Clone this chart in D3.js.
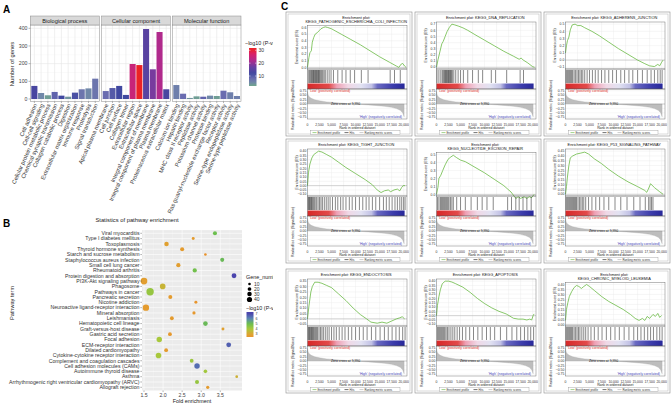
<!DOCTYPE html>
<html><head><meta charset="utf-8">
<script src="https://cdn.jsdelivr.net/npm/d3@7"></script>
<style>body{margin:0;background:#fff}svg{display:block}text{font-family:"Liberation Sans",Arial,sans-serif}</style>
</head><body><svg id="c" width="672" height="403"></svg>
<script>
// ================= Panel A data =================
const bpTerms=["Cell adhesion","Cell-cell signaling","Cellular protein metabolic process","Chemical synaptic transmission","Collagen catabolic process","Digestion","Extracellular matrix organization","Immune response","Proteolysis","Signal transduction"];
const bpGenes=[74,34,21,40,19,13,36,55,60,115];
const bpLogP=[13,5,3,9,12,4,11,7,5,7];
const ccTerms=["Apical plasma membrane","Cell junction","Cell surface","Collagen trimer","Extracellular region","Extracellular space","Integral component of membrane","Integral component of plasma membrane","Plasma membrane","Proteinaceous extracellular matrix"];
const ccGenes=[45,62,74,23,198,192,396,168,379,55];
const ccLogP=[8,10,12,12,25,31,15,18,22,13];
const mfTerms=["Calcium ion binding","Heparin binding","MHC class II receptor activity","Peptidase activity","Potassium channel activity","Protease binding","Ras guanyl-nucleotide exchange factor activity","Receptor activity","Serine-type endopeptidase activity","Serine-type peptidase activity"];
const mfGenes=[79,30,6,15,13,19,17,47,38,17];
const mfLogP=[6,8,4,3,9,5,3,8,6,6];
const facetNames=["Biological process","Cellular component","Molecular function"];
const countTicks=[0,100,200,300,400];
const goLegendTicks=[10,20,30];

// ================= Panel B data =================
const pathways=["Viral myocarditis","Type I diabetes mellitus","Toxoplasmosis","Thyroid hormone synthesis","Starch and sucrose metabolism","Staphylococcus aureus infection","Small cell lung cancer","Rheumatoid arthritis","Protein digestion and absorption","PI3K-Akt signaling pathway","Phagosome","Pathways in cancer","Pancreatic secretion","Nicotine addiction","Neuroactive ligand-receptor interaction","Mineral absorption","Leishmaniasis","Hematopoietic cell lineage","Graft-versus-host disease","Gastric acid secretion","Focal adhesion","ECM-receptor interaction","Dilated cardiomyopathy","Cytokine-cytokine receptor interaction","Complement and coagulation cascades","Cell adhesion molecules (CAMs)","Autoimmune thyroid disease","Asthma","Arrhythmogenic right ventricular cardiomyopathy (ARVC)","Allograft rejection"];
const foldEnrich=[3.36,2.79,2.09,2.50,3.11,3.55,2.40,2.83,3.86,1.50,1.99,1.66,2.19,2.86,1.55,2.81,2.23,3.11,3.57,2.18,1.90,3.72,2.08,1.88,2.75,2.89,3.11,3.93,2.89,3.17];
const geneNumber=[24,13,29,24,10,24,26,26,34,65,46,80,24,13,60,15,21,31,13,21,43,34,21,46,21,43,19,11,24,15];
const pathLogP=[5.0,2.6,2.8,2.6,2.3,5.1,2.7,4.9,7.0,2.7,3.4,4.3,2.6,2.4,2.6,2.5,2.6,5.1,2.8,2.5,4.0,6.6,2.6,4.0,4.2,6.4,4.1,3.3,4.3,2.6];
const foldTicks=[1.5,2.0,2.5,3.0,3.5];
const geneLegend=[10,20,30,40];
const pathLegendTicks=[3,4,5,6,7];

// ================= Panel C data =================
const gseaTitles=[["Enrichment plot:","KEGG_PATHOGENIC_ESCHERICHIA_COLI_INFECTION"],["Enrichment plot: KEGG_DNA_REPLICATION"],["Enrichment plot: KEGG_ADHERENS_JUNCTION"],["Enrichment plot: KEGG_TIGHT_JUNCTION"],["Enrichment plot:","KEGG_NUCLEOTIDE_EXCISION_REPAIR"],["Enrichment plot: KEGG_P53_SIGNALING_PATHWAY"],["Enrichment plot: KEGG_ENDOCYTOSIS"],["Enrichment plot: KEGG_APOPTOSIS"],["Enrichment plot:","KEGG_CHRONIC_MYELOID_LEUKEMIA"]];
const es1=[[0,0],[300,0.15],[500,0.22],[800,0.25],[1000,0.38],[1300,0.45],[1600,0.5],[2000,0.52],[2400,0.55],[2800,0.58],[3300,0.6],[3700,0.61],[4200,0.6],[5000,0.58],[7000,0.5],[9000,0.42],[11000,0.34],[13000,0.25],[15000,0.16],[17000,0.08],[18500,0.02],[19000,0],[19500,0.05],[19800,0.06],[20200,0.02],[20500,0]];
const es2=[[0,0],[300,0.12],[700,0.25],[1100,0.38],[1400,0.42],[1800,0.5],[2200,0.58],[2700,0.65],[3200,0.7],[3700,0.69],[4500,0.67],[5500,0.64],[6500,0.6],[8000,0.53],[10000,0.44],[12000,0.35],[14000,0.26],[16000,0.18],[17200,0.13],[17600,0.15],[18000,0.12],[19000,0.07],[20000,0.01],[20400,0]];
const es3=[[0,0.1],[200,0.2],[400,0.27],[700,0.32],[1000,0.42],[1400,0.49],[2000,0.5],[2500,0.48],[3200,0.48],[4000,0.45],[5500,0.4],[7000,0.34],[9000,0.25],[11000,0.16],[13000,0.08],[15000,0.0],[16500,-0.05],[17500,-0.08],[18500,-0.09],[19200,-0.06],[19600,-0.08],[20000,-0.03],[20300,0.0]];
const es4=[[0,0],[200,0.15],[500,0.25],[900,0.32],[1300,0.36],[1800,0.38],[2300,0.4],[3000,0.39],[4000,0.36],[5000,0.33],[6500,0.27],[8000,0.21],[10000,0.14],[12000,0.07],[13500,0.01],[14500,-0.05],[15300,-0.08],[16000,-0.06],[16800,-0.05],[17300,-0.07],[18000,-0.05],[18700,-0.04],[19200,-0.06],[19600,-0.02],[19900,0.0],[20300,0.0]];
const es5=[[0,0],[300,0.09],[500,0.2],[900,0.24],[1300,0.3],[1800,0.37],[2400,0.44],[3000,0.47],[3500,0.49],[4200,0.46],[5000,0.43],[6000,0.41],[8000,0.34],[10000,0.27],[12000,0.19],[14000,0.11],[15500,0.03],[16500,-0.05],[17000,-0.03],[17500,-0.05],[18200,-0.03],[18800,-0.05],[19300,-0.03],[19800,-0.04],[20300,0.0]];
const es6=[[0,0],[200,0.08],[400,0.18],[700,0.3],[1000,0.38],[1500,0.4],[2300,0.42],[3200,0.43],[4000,0.44],[4800,0.42],[6000,0.37],[7500,0.32],[9000,0.26],[11000,0.19],[13000,0.13],[15000,0.08],[16500,0.04],[16900,0.02],[17200,0.05],[17700,0.11],[18500,0.07],[19500,0.03],[20300,0.0]];
const es7=[[0,0],[300,0.12],[700,0.25],[1000,0.3],[1500,0.34],[2200,0.34],[3000,0.33],[4000,0.31],[5000,0.29],[6500,0.23],[8000,0.17],[9500,0.1],[11000,0.04],[12300,0.0],[13200,-0.03],[14500,-0.04],[15500,-0.03],[16500,-0.04],[17500,-0.02],[18500,0.0],[19200,0.01],[19700,0.02],[20200,0.0]];
const es8=[[0,0],[200,0.12],[500,0.22],[800,0.3],[1200,0.37],[1800,0.4],[2500,0.4],[3200,0.39],[4000,0.37],[5500,0.33],[7000,0.27],[8500,0.2],[10000,0.14],[11500,0.09],[13000,0.05],[14500,0.02],[16000,-0.03],[17000,-0.04],[18000,-0.04],[18800,-0.05],[19400,-0.04],[19800,-0.05],[20100,0.0],[20300,0.02]];
const es9=[[0,0.04],[200,0.15],[500,0.22],[800,0.28],[1300,0.33],[1800,0.37],[2300,0.39],[2800,0.38],[3300,0.36],[3800,0.38],[4400,0.4],[5000,0.38],[6000,0.34],[7500,0.28],[9000,0.23],[10500,0.19],[12000,0.15],[13500,0.1],[14500,0.06],[15300,0.04],[16000,0.06],[16500,0.04],[17000,0.08],[17500,0.06],[18200,0.1],[18700,0.08],[19200,0.11],[19600,0.07],[20000,0.09]];
const esTicks1=[0,0.1,0.2,0.3,0.4,0.5,0.6];
const esTicks2=[0,0.1,0.2,0.3,0.4,0.5,0.6,0.7];
const esTicks3=[-0.1,0,0.1,0.2,0.3,0.4,0.5];
const esTicks4=[-0.1,-0.05,0,0.05,0.1,0.15,0.2,0.25,0.3,0.35,0.4];
const esTicks5=[0,0.1,0.2,0.3,0.4,0.5];
const esTicks6=[0,0.05,0.1,0.15,0.2,0.25,0.3,0.35,0.4,0.45];
const esTicks7=[-0.05,0,0.05,0.1,0.15,0.2,0.25,0.3,0.35];
const esTicks8=[-0.1,-0.05,0,0.05,0.1,0.15,0.2,0.25,0.3,0.35,0.4];
const esTicks9=[0,0.05,0.1,0.15,0.2,0.25,0.3,0.35,0.4];
const hits1=[150,400,600,800,950,1100,1250,1400,1550,1700,1850,2000,2150,2300,2450,2600,2800,3000,3200,3450,3700,4100,4500,4900,5400,6300,7200,8000,8900,9800,11200,12600,17200,18100,19300];
const hits2=[100,500,900,1200,1400,1600,1750,1900,2050,2200,2350,2500,2650,2800,2950,3100,3300,3600,4000,4500,5000,5600,6500,7500,8700,9600,11400,12300,14600,17400,18100];
const hits3=[100,300,500,700,900,1100,1300,1500,1800,2100,2400,2700,3000,3300,3600,4000,4500,5000,5600,6200,6800,7500,8200,9000,9800,10600,11500,12300,13200,14000,15000,16000,17000,17800,18500,19200,19700,20100];
const hits4=[100,250,400,550,700,850,1000,1200,1400,1600,1900,2200,2500,2800,3100,3500,3900,4300,4700,5200,5800,6300,6900,7400,8000,8700,9300,10000,10800,11500,12200,12800,13500,14200,15000,15800,16400,17000,17600,18200,18700,19200,19600,20000,20300];
const hits5=[200,500,800,1000,1200,1400,1600,1800,2000,2200,2400,2600,2900,3200,3500,4200,5000,6000,7200,8500,9500,10500,11800,14800,15600,16500,17200,18000,18800,19700];
const hits6=[100,300,500,700,900,1100,1300,1500,1700,1900,2100,2300,2600,2900,3200,3500,3800,4200,4800,5500,6300,7100,8000,9000,10300,11500,12800,14200,15500,16600,17300,17600,17900,18200];
const hits7=[100,250,400,550,700,850,1000,1150,1300,1500,1700,1900,2100,2400,2700,3000,3300,3700,4100,4500,5000,5500,6000,6600,7200,7800,8500,9200,10000,10800,11600,12400,13300,14200,15100,16000,16800,17600,18400,19100,19800,20300];
const hits8=[150,350,550,750,950,1150,1350,1550,1750,2000,2300,2600,3000,3400,3800,4300,4800,5400,6100,6900,7700,8600,9500,10400,11200,12100,13300,14600,15700,16700,17500,18300,19000,19600,20200];
const hits9=[100,300,500,700,900,1100,1300,1500,1800,2100,2400,2700,3000,3400,3800,4200,4700,5300,6000,6800,7600,8500,9400,10300,11200,12200,13200,14200,15000,15700,16400,17100,17700,18300,19000,19600,20100];
const rankMetric=[[0,0.72],[150,0.5],[400,0.4],[800,0.32],[1500,0.24],[2500,0.18],[4000,0.12],[6000,0.07],[8000,0.03],[9990,0],[12000,-0.04],[14000,-0.08],[16000,-0.13],[17500,-0.19],[18500,-0.26],[19300,-0.36],[19800,-0.5],[20100,-0.72]];
const rankTicks=[0,2500,5000,7500,10000,12500,15000,17500,20000];
const metricTicks=[-0.75,-0.5,-0.25,0,0.25,0.5,0.75];
const zeroCross=9990;

// ================= Drawing =================
const svg=d3.select("#c");
const defs=svg.append("defs");
defs.append("clipPath").attr("id","clipAB").append("rect").attr("x",0).attr("y",0).attr("width",273).attr("height",403);
const gAB=svg.append("g").attr("clip-path","url(#clipAB)");

// ---- Panel A ----
gAB.append("text").attr("x",3).attr("y",13).attr("font-size",10).attr("font-weight","bold").text("A");
const colA=d3.scaleLinear().domain([2,5,8,12,17,22,27,31]).range(["#6fa88a","#7088a8","#6a6cb0","#4048a0","#6a3fa2","#b02a8c","#d8206a","#ec2226"]).clamp(true);
const yA=d3.scaleLinear().domain([0,400]).range([99,28.3]);
const pTop=25,pBot=101.5;
const facets=[
 {terms:bpTerms,genes:bpGenes,lp:bpLogP,x0:30.3,x1:99.3},
 {terms:ccTerms,genes:ccGenes,lp:ccLogP,x0:101.7,x1:170.3},
 {terms:mfTerms,genes:mfGenes,lp:mfLogP,x0:172.3,x1:241}
];
facets.forEach((f,fi)=>{
  const g=gAB.append("g");
  const x=d3.scaleBand().domain(f.terms).range([f.x0,f.x1]).paddingInner(0.1).paddingOuter(0.15);
  g.append("rect").attr("x",f.x0).attr("y",pTop).attr("width",f.x1-f.x0).attr("height",pBot-pTop).attr("fill","#fff");
  [50,150,250,350].forEach(v=>g.append("line").attr("x1",f.x0).attr("x2",f.x1).attr("y1",yA(v)).attr("y2",yA(v)).attr("stroke","#f3f3f3").attr("stroke-width",0.4));
  countTicks.forEach(v=>g.append("line").attr("x1",f.x0).attr("x2",f.x1).attr("y1",yA(v)).attr("y2",yA(v)).attr("stroke","#e6e6e6").attr("stroke-width",0.6));
  f.terms.forEach(t=>{const cx=x(t)+x.bandwidth()/2;g.append("line").attr("x1",cx).attr("x2",cx).attr("y1",pTop).attr("y2",pBot).attr("stroke","#e6e6e6").attr("stroke-width",0.6);});
  g.selectAll("rect.bar").data(f.terms).enter().append("rect")
    .attr("x",d=>x(d)).attr("width",x.bandwidth())
    .attr("y",(d,i)=>yA(f.genes[i])).attr("height",(d,i)=>yA(0)-yA(f.genes[i]))
    .attr("fill",(d,i)=>colA(f.lp[i]));
  g.append("rect").attr("x",f.x0).attr("y",pTop).attr("width",f.x1-f.x0).attr("height",pBot-pTop).attr("fill","none").attr("stroke","#8a8a8a").attr("stroke-width",0.5);
  g.append("rect").attr("x",f.x0).attr("y",16).attr("width",f.x1-f.x0).attr("height",9).attr("fill","#d9d9d9").attr("stroke","#8a8a8a").attr("stroke-width",0.5);
  g.append("text").attr("x",(f.x0+f.x1)/2).attr("y",22.6).attr("text-anchor","middle").attr("font-size",5.6).attr("fill","#1a1a1a").text(facetNames[fi]);
  f.terms.forEach(t=>{
    const cx=x(t)+x.bandwidth()/2;
    g.append("line").attr("x1",cx).attr("x2",cx).attr("y1",pBot).attr("y2",pBot+1.5).attr("stroke","#444").attr("stroke-width",0.4);
    g.append("text").attr("transform",`translate(${cx+1},${pBot+2.5}) rotate(-66)`).attr("text-anchor","end").attr("dy","0.35em").attr("font-size",5.8).attr("fill","#333").text(t);
  });
});
countTicks.forEach(v=>{
  gAB.append("line").attr("x1",28.5).attr("x2",30.3).attr("y1",yA(v)).attr("y2",yA(v)).attr("stroke","#444").attr("stroke-width",0.4);
  gAB.append("text").attr("x",27.5).attr("y",yA(v)).attr("dy","0.35em").attr("text-anchor","end").attr("font-size",5.2).attr("fill","#444").text(v);
});
gAB.append("text").attr("transform","translate(14,64) rotate(-90)").attr("text-anchor","middle").attr("font-size",5.8).attr("fill","#222").text("Number of genes");
// legend A
gAB.append("text").attr("x",245).attr("y",44.5).attr("font-size",5.4).attr("fill","#222").text("\u2212log10 (P-value)");
const lgA=defs.append("linearGradient").attr("id","gradA").attr("x1",0).attr("y1",1).attr("x2",0).attr("y2",0);
const yLegA=d3.scaleLinear().domain([10,30]).range([76,50.3]);
const aMin=yLegA.invert(86),aMax=yLegA.invert(48);
d3.range(0,1.0001,0.05).forEach(t=>lgA.append("stop").attr("offset",t).attr("stop-color",colA(aMin+t*(aMax-aMin))));
gAB.append("rect").attr("x",249).attr("y",48).attr("width",7.5).attr("height",38).attr("fill","url(#gradA)");
goLegendTicks.forEach(v=>{
  gAB.append("line").attr("x1",249).attr("x2",250.5).attr("y1",yLegA(v)).attr("y2",yLegA(v)).attr("stroke","#fff").attr("stroke-width",0.5);
  gAB.append("line").attr("x1",255).attr("x2",256.5).attr("y1",yLegA(v)).attr("y2",yLegA(v)).attr("stroke","#fff").attr("stroke-width",0.5);
  gAB.append("text").attr("x",258.5).attr("y",yLegA(v)).attr("dy","0.35em").attr("font-size",5).attr("fill","#333").text(v);
});

// ---- Panel B ----
gAB.append("text").attr("x",3).attr("y",227).attr("font-size",10).attr("font-weight","bold").text("B");
gAB.append("text").attr("x",137).attr("y",222).attr("text-anchor","middle").attr("font-size",5.8).attr("fill","#222").text("Statistics of pathway enrichment");
const yB=d3.scalePoint().domain(pathways).range([233.3,387.3]);
const xB=d3.scaleLinear().domain([1.5,3.5]).range([144,220.3]);
const bL=142,bR=242,bT=230.1,bBt=390.5;
const rB=d3.scaleSqrt().domain([0,80]).range([0,3.7]);
const colB=d3.scaleLinear().domain([2,3,4,5,6,7]).range(["#f08a28","#dca632","#a8c83c","#6cbf4e","#5a86b4","#4b45ad"]).clamp(true);
gAB.append("rect").attr("x",bL).attr("y",bT).attr("width",bR-bL).attr("height",bBt-bT).attr("fill","#ebebeb");
[1.75,2.25,2.75,3.25,3.75].forEach(v=>gAB.append("line").attr("x1",xB(v)).attr("x2",xB(v)).attr("y1",bT).attr("y2",bBt).attr("stroke","#f7f7f7").attr("stroke-width",0.35));
foldTicks.forEach(v=>gAB.append("line").attr("x1",xB(v)).attr("x2",xB(v)).attr("y1",bT).attr("y2",bBt).attr("stroke","#fff").attr("stroke-width",0.6));
pathways.forEach(p=>gAB.append("line").attr("x1",bL).attr("x2",bR).attr("y1",yB(p)).attr("y2",yB(p)).attr("stroke","#fff").attr("stroke-width",0.6));
gAB.selectAll("circle.pt").data(pathways).enter().append("circle")
  .attr("cx",(d,i)=>xB(foldEnrich[i])).attr("cy",d=>yB(d)).attr("r",(d,i)=>rB(geneNumber[i])).attr("fill",(d,i)=>colB(pathLogP[i]));
pathways.forEach(p=>{
  gAB.append("line").attr("x1",140.3).attr("x2",bL).attr("y1",yB(p)).attr("y2",yB(p)).attr("stroke","#444").attr("stroke-width",0.4);
  gAB.append("text").attr("x",139.5).attr("y",yB(p)).attr("dy","0.35em").attr("text-anchor","end").attr("font-size",5.2).attr("fill","#333").text(p);
});
foldTicks.forEach(v=>{
  gAB.append("line").attr("x1",xB(v)).attr("x2",xB(v)).attr("y1",bBt).attr("y2",bBt+1.5).attr("stroke","#444").attr("stroke-width",0.4);
  gAB.append("text").attr("x",xB(v)).attr("y",397).attr("text-anchor","middle").attr("font-size",5.2).attr("fill","#444").text(d3.format(".1f")(v));
});
gAB.append("text").attr("x",192).attr("y",402.6).attr("text-anchor","middle").attr("font-size",5.4).attr("fill","#222").text("Fold enrichment");
gAB.append("text").attr("transform","translate(14,303) rotate(-90)").attr("text-anchor","middle").attr("font-size",5.6).attr("fill","#222").text("Pathway term");
gAB.append("text").attr("x",246).attr("y",278.5).attr("font-size",5.4).attr("fill","#222").text("Gene_number");
const legGy=[284,289,294,299.5];
geneLegend.forEach((v,i)=>{
  gAB.append("circle").attr("cx",249.5).attr("cy",legGy[i]).attr("r",rB(v)).attr("fill","#000");
  gAB.append("text").attr("x",254).attr("y",legGy[i]).attr("dy","0.35em").attr("font-size",5).attr("fill","#333").text(v);
});
gAB.append("text").attr("x",246).attr("y",309.5).attr("font-size",5.4).attr("fill","#222").text("\u2212log10 (P-value)");
const lgB=defs.append("linearGradient").attr("id","gradB").attr("x1",0).attr("y1",1).attr("x2",0).attr("y2",0);
const yLegB=d3.scaleLinear().domain([3,7]).range([334,313.5]);
const bMin=yLegB.invert(337),bMax=yLegB.invert(312);
d3.range(0,1.0001,0.05).forEach(t=>lgB.append("stop").attr("offset",t).attr("stop-color",colB(bMin+t*(bMax-bMin))));
gAB.append("rect").attr("x",246.5).attr("y",312).attr("width",7).attr("height",25).attr("fill","url(#gradB)");
pathLegendTicks.forEach(v=>{
  gAB.append("text").attr("x",255.5).attr("y",yLegB(v)).attr("dy","0.35em").attr("font-size",3.6).attr("fill","#333").text(v);
});

// ---- Panel C ----
svg.append("text").attr("x",281).attr("y",10).attr("font-size",10).attr("font-weight","bold").text("C");
const esSets=[es1,es2,es3,es4,es5,es6,es7,es8,es9];
const esTickSets=[esTicks1,esTicks2,esTicks3,esTicks4,esTicks5,esTicks6,esTicks7,esTicks8,esTicks9];
const hitSets=[hits1,hits2,hits3,hits4,hits5,hits6,hits7,hits8,hits9];
const cellX=[288,417,546],cellY=[13,140,270],cellW=122,cellH=123;
const lgC=defs.append("linearGradient").attr("id","gradC").attr("x1",0).attr("y1",0).attr("x2",1).attr("y2",0);
[[0,"#d62828"],[0.22,"#e24a4a"],[0.3,"#eea0b4"],[0.42,"#f0d8e6"],[0.55,"#e2e2f2"],[0.66,"#c2c2e6"],[0.72,"#6a6ac2"],[0.88,"#3c3cab"],[1,"#28289a"]].forEach(s=>lgC.append("stop").attr("offset",s[0]).attr("stop-color",s[1]));
const fs=3.4;
gseaTitles.forEach((title,i)=>{
  const cx=cellX[i%3],cy=cellY[Math.floor(i/3)];
  const g=svg.append("g");
  g.append("rect").attr("x",cx-2).attr("y",cy-1).attr("width",cellW+4).attr("height",cellH+1).attr("fill","#fff").attr("stroke","#8c8c8c").attr("stroke-width",0.6);
  g.append("rect").attr("x",cx).attr("y",cy+1).attr("width",cellW).attr("height",cellH-3).attr("fill","none").attr("stroke","#b4b4b4").attr("stroke-width",0.5);
  const L=cx+19.5,R=cx+119;
  const two=title.length===2;
  const esTop=cy+(two?12.5:9),esBot=cy+56;
  const hitBot=cy+70.5,barBot=cy+76,rkBot=cy+106;
  const x=d3.scaleLinear().domain([0,20700]).range([L,R]);
  const tk=esTickSets[i];
  const span=tk[tk.length-1]-tk[0];
  const y=d3.scaleLinear().domain([tk[0]-span*0.04,tk[tk.length-1]+span*0.05]).range([esBot,esTop]);
  title.forEach((t,k)=>g.append("text").attr("x",(L+R)/2-1).attr("y",cy+6+k*4.3).attr("text-anchor","middle").attr("font-size",3.9).attr("fill","#111").text(t));
  tk.forEach(v=>g.append("line").attr("x1",L).attr("x2",R).attr("y1",y(v)).attr("y2",y(v)).attr("stroke","#e9e9e9").attr("stroke-width",0.4));
  rankTicks.forEach(v=>g.append("line").attr("x1",x(v)).attr("x2",x(v)).attr("y1",esTop).attr("y2",esBot).attr("stroke","#e9e9e9").attr("stroke-width",0.4));
  g.append("line").attr("x1",L).attr("x2",R).attr("y1",y(0)).attr("y2",y(0)).attr("stroke","#9a9a9a").attr("stroke-width",0.4);
  g.append("path").datum(esSets[i]).attr("d",d3.line().x(d=>x(d[0])).y(d=>y(d[1]))).attr("fill","none").attr("stroke","#62b53a").attr("stroke-width",0.75);
  g.append("rect").attr("x",L).attr("y",esTop).attr("width",R-L).attr("height",esBot-esTop).attr("fill","none").attr("stroke","#555").attr("stroke-width",0.4);
  tk.forEach(v=>g.append("text").attr("x",L-1.2).attr("y",y(v)).attr("dy","0.35em").attr("text-anchor","end").attr("font-size",fs).attr("fill","#333").text(tk.length>8||i===5||i===6||i===8?d3.format(".2f")(v):d3.format(".1f")(v)));
  g.append("text").attr("transform",`translate(${L-9.5},${(esTop+esBot)/2}) rotate(-90)`).attr("text-anchor","middle").attr("font-size",fs).attr("fill","#222").text("Enrichment score (ES)");
  g.selectAll("line.hit").data(hitSets[i]).enter().append("line").attr("x1",d=>x(d)).attr("x2",d=>x(d)).attr("y1",esBot+1).attr("y2",hitBot-0.5).attr("stroke","#111").attr("stroke-width",0.5);
  g.append("rect").attr("x",L).attr("y",hitBot).attr("width",x(20200)-L).attr("height",barBot-hitBot).attr("fill","url(#gradC)");
  g.append("rect").attr("x",L).attr("y",esBot).attr("width",R-L).attr("height",barBot-esBot).attr("fill","none").attr("stroke","#555").attr("stroke-width",0.4);
  const yr=d3.scaleLinear().domain([-0.85,0.85]).range([rkBot,barBot]);
  metricTicks.forEach(v=>g.append("line").attr("x1",L).attr("x2",R).attr("y1",yr(v)).attr("y2",yr(v)).attr("stroke","#ececec").attr("stroke-width",0.35));
  g.append("path").datum(rankMetric).attr("d",d3.area().x(d=>x(d[0])).y0(yr(0)).y1(d=>yr(d[1]))).attr("fill","#bdbdbd").attr("stroke","#a5a5a5").attr("stroke-width",0.3);
  g.append("line").attr("x1",x(zeroCross)-3).attr("x2",R).attr("y1",yr(0)).attr("y2",yr(0)).attr("stroke","#777").attr("stroke-width",0.3);
  g.append("rect").attr("x",L).attr("y",barBot).attr("width",R-L).attr("height",rkBot-barBot).attr("fill","none").attr("stroke","#555").attr("stroke-width",0.4);
  metricTicks.slice().reverse().forEach(v=>g.append("text").attr("x",L-1.2).attr("y",yr(v)).attr("dy","0.35em").attr("text-anchor","end").attr("font-size",fs).attr("fill","#333").text(d3.format(".2f")(v)));
  g.append("text").attr("transform",`translate(${L-13.5},${cy+92}) rotate(-90)`).attr("text-anchor","middle").attr("font-size",fs).attr("fill","#222").text("Ranked list metric (Signal2Noise)");
  g.append("text").attr("x",L+2).attr("y",barBot+3.4).attr("font-size",fs).attr("fill","#e0302a").text("'Low' (positively correlated)");
  g.append("text").attr("x",x(zeroCross)-10).attr("y",yr(0)+1.2).attr("text-anchor","middle").attr("font-size",fs).attr("fill","#111").text("Zero cross at "+d3.format(",")(zeroCross));
  g.append("text").attr("x",R-5).attr("y",rkBot-1.5).attr("text-anchor","end").attr("font-size",fs).attr("fill","#4a4ac0").text("'High' (negatively correlated)");
  rankTicks.forEach(v=>g.append("text").attr("x",x(v)).attr("y",cy+112.5).attr("text-anchor","middle").attr("font-size",fs).attr("fill","#333").text(d3.format(",")(v)));
  g.append("text").attr("x",(L+R)/2).attr("y",cy+116.3).attr("text-anchor","middle").attr("font-size",fs).attr("fill","#222").text("Rank in ordered dataset");
  const ly=cy+119.6;
  g.append("rect").attr("x",L+3).attr("y",cy+117.6).attr("width",R-L-10).attr("height",4).attr("fill","#fff").attr("stroke","#888").attr("stroke-width",0.35);
  const items=[["Enrichment profile","#62b53a",L+5],["Hits","#111",L+37],["Ranking metric scores","#aaaaaa",L+52]];
  items.forEach(it=>{
    g.append("line").attr("x1",it[2]).attr("x2",it[2]+4).attr("y1",ly).attr("y2",ly).attr("stroke",it[1]).attr("stroke-width",0.6);
    g.append("text").attr("x",it[2]+5).attr("y",ly).attr("dy","0.35em").attr("font-size",2.8).attr("fill","#333").text(it[0]);
  });
});
</script></body></html>
